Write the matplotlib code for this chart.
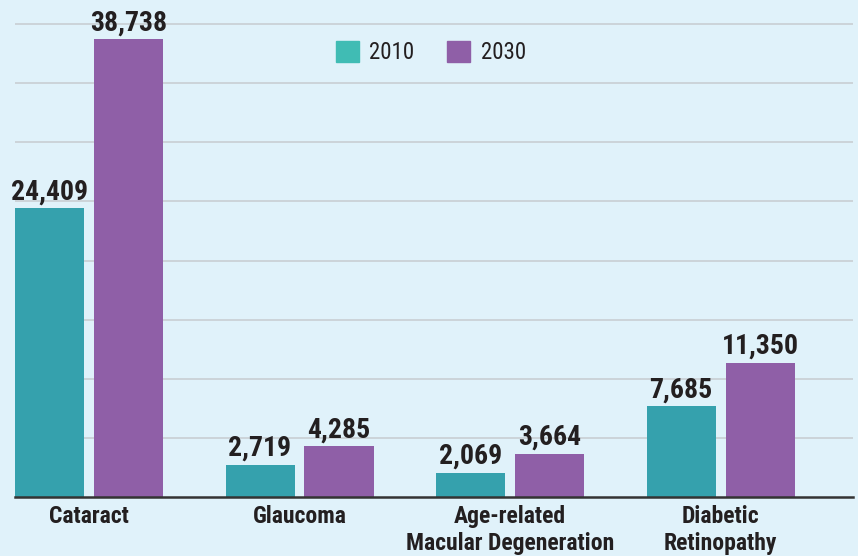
import matplotlib
matplotlib.use("Agg")
import matplotlib.pyplot as plt
import matplotlib.patches as mpatches
import numpy as np

# Dados (milhares de pessoas)
categorias = ["Cataract", "Glaucoma", "Age-related\nMacular Degeneration", "Diabetic\nRetinopathy"]
anos = ["2010", "2030"]
valores_2010 = [24409, 2719, 2069, 7685]
valores_2030 = [38738, 4285, 3664, 11350]

cor_fundo = "#e0f2fa"
cor_2010 = "#35a1ad"
cor_2030 = "#8f5fa7"
cor_leg_2010 = "#40bcb4"
cor_texto = "#231f20"

plt.rcParams["font.family"] = ["Roboto Condensed", "DejaVu Sans Condensed", "DejaVu Sans"]

fig = plt.figure(figsize=(8.58, 5.56), dpi=100, facecolor=cor_fundo)
ax = fig.add_axes([15 / 858, 59 / 556, 838 / 858, 497 / 556])
ax.set_facecolor(cor_fundo)

x = np.arange(len(categorias))
largura = 0.328
desloc = 0.1876

b1 = ax.bar(x - desloc, valores_2010, largura, color=cor_2010, zorder=3)
b2 = ax.bar(x + desloc, valores_2030, largura, color=cor_2030, zorder=3)

# rótulos de valor
for barras, vals in [(b1, valores_2010), (b2, valores_2030)]:
    for r, v in zip(barras, vals):
        ax.annotate(f"{v:,}", (r.get_x() + r.get_width() / 2, v),
                    xytext=(0, 2), textcoords="offset points",
                    ha="center", va="bottom", fontsize=20, fontweight="bold",
                    color=cor_texto)

ax.set_xlim(-0.3515, 3.629)
ax.set_ylim(0, 42036)
ax.set_yticks(np.arange(5000, 40001, 5000))
ax.yaxis.grid(True, color="#c9ced3", linewidth=1.2, zorder=0)
ax.tick_params(axis="y", length=0, labelleft=False)

ax.set_xticks(x)
ax.set_xticklabels(categorias, fontsize=17, fontweight="bold", color=cor_texto,
                   linespacing=1.22)
ax.tick_params(axis="x", length=0, pad=6)

for s in ["top", "right", "left"]:
    ax.spines[s].set_visible(False)
ax.spines["bottom"].set_color("#333333")
ax.spines["bottom"].set_linewidth(1.8)
ax.spines["bottom"].set_zorder(4)

handles = [mpatches.Patch(color=cor_leg_2010, label=anos[0]),
           mpatches.Patch(color=cor_2030, label=anos[1])]
fig.legend(handles=handles, loc="center", bbox_to_anchor=(0.502, 0.905), ncol=2,
           frameon=False, fontsize=16.5, handlelength=1.0, handleheight=1.0,
           handletextpad=0.45, columnspacing=1.45, labelcolor=cor_texto)

fig.savefig("out.png", dpi=100, facecolor=cor_fundo)
